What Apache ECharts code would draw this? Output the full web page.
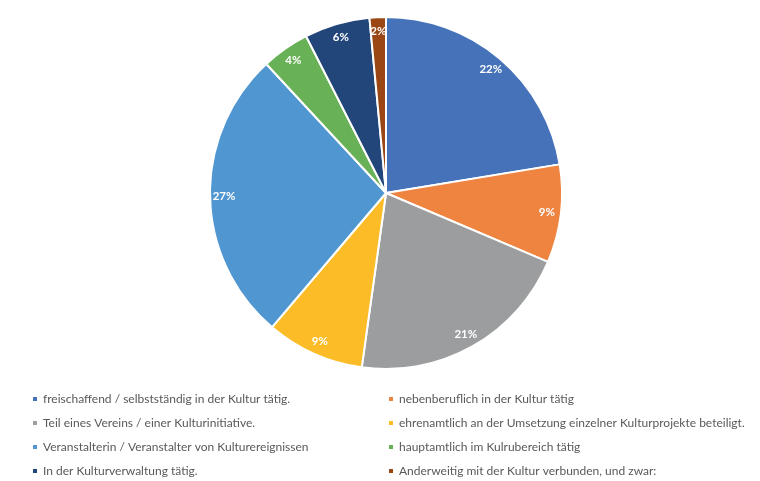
<!DOCTYPE html>
<html><head><meta charset="utf-8">
<script src="https://cdn.jsdelivr.net/npm/echarts@6/dist/echarts.min.js"></script>
<style>html,body{margin:0;padding:0;background:#fff}#c{width:760px;height:481px}</style>
</head><body><div id="c"></div>
<script>
const categories = [
  "freischaffend / selbstständig in der Kultur tätig.",
  "nebenberuflich in der Kultur tätig",
  "Teil eines Vereins / einer Kulturinitiative.",
  "ehrenamtlich an der Umsetzung einzelner Kulturprojekte beteiligt.",
  "Veranstalterin / Veranstalter von Kulturereignissen",
  "hauptamtlich im Kulrubereich tätig",
  "In der Kulturverwaltung tätig.",
  "Anderweitig mit der Kultur verbunden, und zwar:"
];
const values = [22.4, 9.0, 20.8, 9.0, 26.9, 4.4, 6.0, 1.5];
const colors = ["#4672B9", "#EF8340", "#9C9D9F", "#FBBC27", "#5096D1", "#68B157", "#22467A", "#9A4715"];

const data = categories.map((n, i) => ({ name: n, value: values[i], itemStyle: { color: colors[i] } }));
const font = "Lato, 'Open Sans', sans-serif";
const chart = echarts.init(document.getElementById('c'));
const legendBase = {
  orient: 'vertical', top: 392, height: 100, itemWidth: 6, itemHeight: 6, icon: 'rect', itemGap: 10,
  textStyle: { color: '#595959', fontSize: 12, fontFamily: font, lineHeight: 14 },
  selectedMode: false, padding: 0
};
chart.setOption({
  animation: false,
  legend: [
    Object.assign({}, legendBase, { left: 31, data: [0, 2, 4, 6].map(i => categories[i]) }),
    Object.assign({}, legendBase, { left: 387, data: [1, 3, 5, 7].map(i => categories[i]) })
  ],
  series: [
    {
      type: 'pie', center: [386, 193], radius: [0, 176], startAngle: 90, clockwise: true,
      data: data, label: { show: false }, labelLine: { show: false },
      itemStyle: { borderColor: '#fff', borderWidth: 2 }, silent: true
    },
    {
      type: 'pie', center: [386, 193], radius: [142, 176], startAngle: 90, clockwise: true,
      data: categories.map((n, i) => ({ name: n, value: values[i] })),
      itemStyle: { color: 'rgba(0,0,0,0)' }, silent: true, legendHoverLink: false,
      label: {
        show: true, position: 'inside', color: '#fff', fontSize: 11.5, fontWeight: 'bold', fontFamily: font,
        formatter: p => Math.round(p.percent) + '%'
      },
      labelLine: { show: false }
    }
  ]
});
</script></body></html>
